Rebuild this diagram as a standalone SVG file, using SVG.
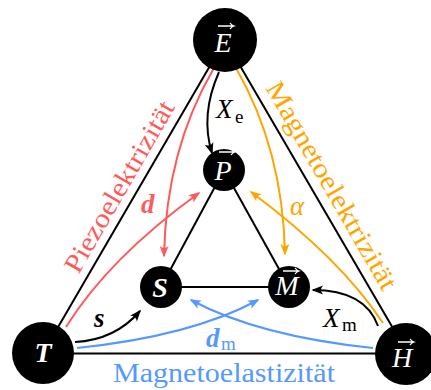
<svg xmlns="http://www.w3.org/2000/svg" xmlns:xlink="http://www.w3.org/1999/xlink" width="431" height="390" viewBox="0 0 431 390">
<style>
.edge{stroke:#000;stroke-width:2;fill:none}
.arr{stroke-width:2;fill:none}
.node{fill:#000}
.m{font-family:"Liberation Serif","DejaVu Serif",serif;font-size:27px}
.it{font-style:italic}
.bi{font-style:italic;font-weight:bold}
.sub{font-size:19px;font-style:normal;font-weight:normal}
.nl{fill:#fff;font-family:"Liberation Serif","DejaVu Serif",serif;font-size:28px;text-anchor:middle}
.vec{stroke:#fff;stroke-width:1.3;fill:none}
.red{fill:#ff5a5a}
.org{fill:#ffa500}
.blu{fill:#5599ff}
</style>
<defs>
<marker id="ak" viewBox="-11 -5 13 10" refX="0" refY="0" markerWidth="13" markerHeight="10" markerUnits="userSpaceOnUse" orient="auto"><path d="M1.5,0 L-10,-4.5 Q-6,0 -10,4.5 Z" fill="#000"/></marker>
<marker id="ar" viewBox="-11 -5 13 10" refX="0" refY="0" markerWidth="13" markerHeight="10" markerUnits="userSpaceOnUse" orient="auto"><path d="M1.5,0 L-10,-4.5 Q-6,0 -10,4.5 Z" fill="#ff5a5a"/></marker>
<marker id="ao" viewBox="-11 -5 13 10" refX="0" refY="0" markerWidth="13" markerHeight="10" markerUnits="userSpaceOnUse" orient="auto"><path d="M1.5,0 L-10,-4.5 Q-6,0 -10,4.5 Z" fill="#ffa500"/></marker>
<marker id="ab" viewBox="-11 -5 13 10" refX="0" refY="0" markerWidth="13" markerHeight="10" markerUnits="userSpaceOnUse" orient="auto"><path d="M1.5,0 L-10,-4.5 Q-6,0 -10,4.5 Z" fill="#5599ff"/></marker>
<path id="vecarrow" class="vec" d="M-8,0 H7.5 M4,-3 Q5.5,-0.8 8,0 Q5.5,0.8 4,3"/>
</defs>

<g id="connectors">
<line class="edge" x1="225" y1="40" x2="43" y2="353"/>
<line class="edge" x1="225" y1="40" x2="408" y2="354"/>
<line class="edge" x1="43" y1="353.5" x2="406" y2="353.5"/>
<line class="edge" x1="224" y1="170" x2="161" y2="287"/>
<line class="edge" x1="224" y1="170" x2="289" y2="287"/>
<line class="edge" x1="161" y1="287" x2="289" y2="287"/>

<path class="arr" stroke="#000" d="M219,72 Q200,115 212,153" marker-end="url(#ak)"/>
<path class="arr" stroke="#ff5a5a" d="M214,68 Q166,150 164,256" marker-end="url(#ar)"/>
<path class="arr" stroke="#ff5a5a" d="M66,327 Q109,258 199,193" marker-end="url(#ar)"/>
<path class="arr" stroke="#ffa500" d="M236,68 Q283,150 285,254" marker-end="url(#ao)"/>
<path class="arr" stroke="#ffa500" d="M383,323 Q340,258 251,192" marker-end="url(#ao)"/>
<path class="arr" stroke="#000" d="M75,342 Q115,340 140,311" marker-end="url(#ak)"/>
<path class="arr" stroke="#000" d="M378,326 Q365,290 313,290" marker-end="url(#ak)"/>
<path class="arr" stroke="#5599ff" d="M77,348 Q192,336 258,300" marker-end="url(#ab)"/>
<path class="arr" stroke="#5599ff" d="M373,348 Q258,336 191,300" marker-end="url(#ab)"/>

<text class="m" x="216" y="118"><tspan class="it">X</tspan><tspan class="sub" x="235" y="123">e</tspan></text>
<text class="m" x="323" y="327"><tspan class="it">X</tspan><tspan class="sub" x="342" y="331">m</tspan></text>
<text class="m it org" x="290" y="215">α</text>
<text class="m bi red" x="141" y="213">d</text>
<text class="m bi" x="94" y="327">s</text>
<text class="m blu" x="206" y="347"><tspan class="bi">d</tspan><tspan class="sub" x="221" y="350">m</tspan></text>

<text class="m red" transform="translate(127,191) rotate(-60)" text-anchor="middle" textLength="194" lengthAdjust="spacingAndGlyphs">Piezoelektrizität</text>
<text class="m org" transform="translate(324,190) rotate(60)" text-anchor="middle" textLength="236" lengthAdjust="spacingAndGlyphs">Magnetoelektrizität</text>
<text class="m blu" x="224" y="382" text-anchor="middle" textLength="222" lengthAdjust="spacingAndGlyphs">Magnetoelastizität</text>
</g>

<g id="node-E">
<circle class="node" cx="225" cy="40" r="32"/>
<text class="nl it" x="223" y="52">E</text>
<use xlink:href="#vecarrow" x="226" y="26"/>
</g>
<g id="node-T">
<circle class="node" cx="43" cy="353" r="31"/>
<text class="nl bi" x="43" y="362">T</text>
</g>
<g id="node-H">
<circle class="node" cx="406" cy="354" r="31"/>
<text class="nl it" x="402" y="367">H</text>
<use xlink:href="#vecarrow" x="406" y="342"/>
</g>
<g id="node-P">
<circle class="node" cx="224" cy="170" r="21"/>
<text class="nl it" x="223" y="180">P</text>
<use xlink:href="#vecarrow" x="227" y="152"/>
</g>
<g id="node-S">
<circle class="node" cx="161" cy="287" r="21"/>
<text class="nl bi" x="160" y="297">S</text>
</g>
<g id="node-M">
<circle class="node" cx="289" cy="287" r="21"/>
<text class="nl it" x="287" y="295">M</text>
<use xlink:href="#vecarrow" x="291" y="271"/>
</g>
</svg>
